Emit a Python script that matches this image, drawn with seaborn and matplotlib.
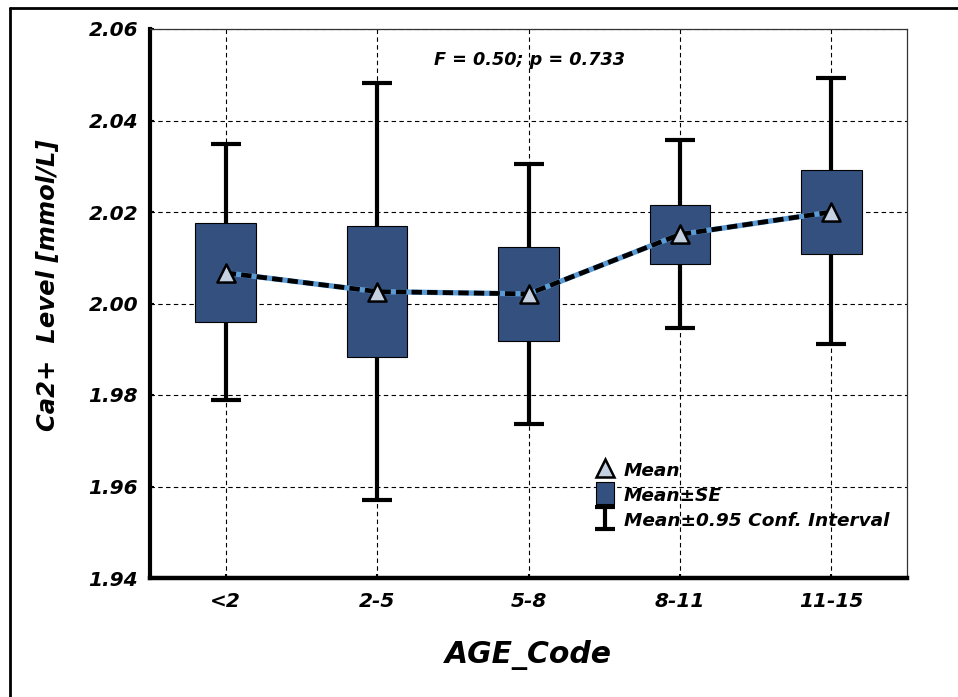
#!/usr/bin/env python
"""
Ca2+ level by age group: mean, mean +/- SE box and 0.95 confidence interval.
"""

import numpy as np
import pandas as pd
import matplotlib
matplotlib.use("Agg")
import matplotlib.pyplot as plt
import seaborn as sns
from matplotlib.lines import Line2D
from matplotlib.path import Path

# values
age_codes = ['<2', '2-5', '5-8', '8-11', '11-15']
means = [2.0067, 2.0026, 2.0021, 2.0151, 2.0200]
se_low = [1.9959, 1.9884, 1.9919, 2.0087, 2.0109]
se_high = [2.0176, 2.0169, 2.0123, 2.0216, 2.0292]
ci_low = [1.9790, 1.9570, 1.9737, 1.9947, 1.9912]
ci_high = [2.0348, 2.0482, 2.0305, 2.0357, 2.0493]
y_ticks = [1.94, 1.96, 1.98, 2.00, 2.02, 2.04, 2.06]
stats_text = "F = 0.50; p = 0.733"

box_color = '#34507f'
mean_face = '#c5d0e0'
line_blue = '#5b9bd5'

sns.set_style('ticks')
plt.rcParams['font.family'] = ['DejaVu Sans']
plt.rcParams.update({
    'text.color': 'black',
    'axes.labelcolor': 'black',
    'axes.edgecolor': 'black',
    'xtick.color': 'black',
    'ytick.color': 'black',
})

df = pd.DataFrame({
    'age': age_codes,
    'mean': means,
    'se_low': se_low,
    'se_high': se_high,
    'ci_low': ci_low,
    'ci_high': ci_high,
})
df['pos'] = np.arange(len(df))

fig = plt.figure(figsize=(9.58, 6.97), dpi=100)
ax = fig.add_axes([150 / 958, 119 / 697, 757 / 958, 549 / 697])

# grid behind everything
ax.set_axisbelow(True)
ax.grid(True, color='black', linestyle=(0, (4, 3)), linewidth=0.8)

# confidence interval whiskers
ax.errorbar(df['pos'], df['mean'],
            yerr=[df['mean'] - df['ci_low'], df['ci_high'] - df['mean']],
            fmt='none', ecolor='black', elinewidth=3, capsize=10.5,
            capthick=3, zorder=2)

# mean +/- SE boxes
ax.bar(df['pos'], df['se_high'] - df['se_low'], bottom=df['se_low'],
       width=0.4, color=box_color, edgecolor='black', linewidth=0.8, zorder=3)

# mean line: blue underneath, black dashes on top
sns.lineplot(data=df, x='pos', y='mean', color=line_blue, linewidth=3.8,
             ax=ax, zorder=4)
sns.lineplot(data=df, x='pos', y='mean', color='black', linewidth=3.4,
             linestyle=(0, (2.2, 1.1)), ax=ax, zorder=4.5)
sns.scatterplot(data=df, x='pos', y='mean', marker='^', s=170,
                color=mean_face, edgecolor='black', linewidth=1.8,
                ax=ax, zorder=5)

ax.set_xlim(-0.5, len(df) - 0.5)
ax.set_ylim(y_ticks[0], y_ticks[-1])
ax.set_xticks(df['pos'])
ax.set_xticklabels(age_codes)
ax.set_yticks(y_ticks)
ax.set_yticklabels([f"{v:.2f}" for v in y_ticks])

for lab in ax.get_xticklabels() + ax.get_yticklabels():
    lab.set_fontsize(14.5)
    lab.set_fontweight('bold')
    lab.set_fontstyle('italic')
ax.tick_params(axis='y', direction='in', length=3, width=1.5, pad=8.5)
ax.tick_params(axis='x', direction='in', length=3, width=1.5, pad=10)

for side in ['top', 'right']:
    ax.spines[side].set_linewidth(0.9)
    ax.spines[side].set_color('#333333')
ax.spines['left'].set_linewidth(3)
ax.spines['bottom'].set_linewidth(3.2)

ax.set_xlabel('AGE_Code', fontsize=21.5, fontweight='bold', fontstyle='italic')
ax.xaxis.set_label_coords(0.5, -0.1548)
ax.xaxis.label.set_va('baseline')
ax.set_ylabel('Ca2+  Level [mmol/L]', fontsize=17.5, fontweight='bold',
              fontstyle='italic')
ax.yaxis.set_label_coords(-0.1347, 0.534)
ax.yaxis.label.set_va('center')

ax.text(0.5007, 0.9435, stats_text, transform=ax.transAxes, ha='center',
        va='center', fontsize=12.7, fontweight='bold', fontstyle='italic')

# legend with marker-only handles
rect_marker = Path([(-0.4, -0.5), (0.4, -0.5), (0.4, 0.5), (-0.4, 0.5),
                    (-0.4, -0.5)])
ibeam_marker = Path([(-0.45, 0.5), (0.45, 0.5), (0, 0.5), (0, -0.5),
                     (-0.45, -0.5), (0.45, -0.5)],
                    [Path.MOVETO, Path.LINETO, Path.MOVETO, Path.LINETO,
                     Path.MOVETO, Path.LINETO])
handles = [
    Line2D([], [], linestyle='none', marker='^', markersize=13,
           markerfacecolor=mean_face, markeredgecolor='black',
           markeredgewidth=1.8),
    Line2D([], [], linestyle='none', marker=rect_marker, markersize=16,
           markerfacecolor=box_color, markeredgecolor='black',
           markeredgewidth=0.8),
    Line2D([], [], linestyle='none', marker=ibeam_marker, markersize=16,
           markerfacecolor='none', markeredgecolor='black',
           markeredgewidth=3),
]
labels = ['Mean', 'Mean\u00b1SE', 'Mean\u00b10.95 Conf. Interval']
leg = ax.legend(handles, labels, loc='upper left',
                bbox_to_anchor=(594 / 958, 1 - 461 / 697),
                bbox_transform=fig.transFigure, frameon=False, borderpad=0,
                borderaxespad=0, handlelength=1.2, handleheight=1.0,
                handletextpad=0.4, labelspacing=0.35, numpoints=1,
                prop=dict(size=13.3, weight='bold', style='italic'))

# page frame lines (top and left)
fig.add_artist(Line2D([9.5 / 958, 1.0], [1 - 7.5 / 697, 1 - 7.5 / 697],
                      transform=fig.transFigure, color='black', linewidth=2))
fig.add_artist(Line2D([9.5 / 958, 9.5 / 958], [0.0, 1 - 7.5 / 697],
                      transform=fig.transFigure, color='black', linewidth=2))

fig.savefig('out.png', dpi=100)
